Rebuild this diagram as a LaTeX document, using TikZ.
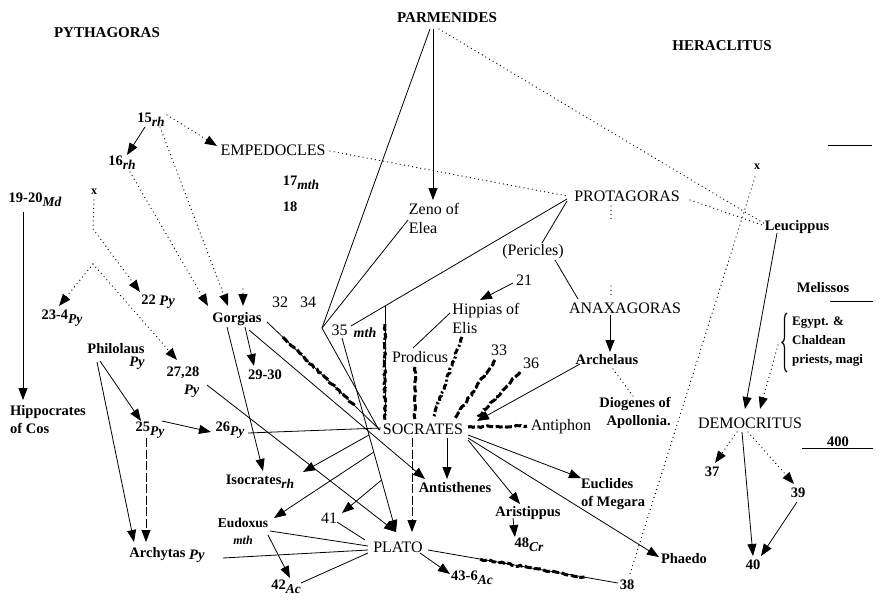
\documentclass[tikz,border=0pt]{standalone}
\usepackage{fontspec}
\setmainfont{Liberation Serif}
\usetikzlibrary{arrows.meta,calc,decorations.pathmorphing,decorations.pathreplacing}
\newcommand\subit[1]{\raisebox{-4pt}{\fontsize{13.5}{14}\selectfont\itshape #1}}
\tikzset{
  every node/.style={inner sep=0pt, font=\fontsize{16}{19}\selectfont},
  hd/.style={font=\fontsize{15}{18}\selectfont\bfseries},
  hv/.style={font=\fontsize{14.5}{18}\selectfont\bfseries},
  ln/.style={line width=0.8pt},
  tip/.style={-{Triangle[length=12pt,width=9pt]}},
  arr/.style={ln, tip},
  dot/.style={line width=1.3pt, line cap=round, dash pattern=on 0pt off 4.2pt},
  dotarr/.style={dot, tip},
  dsh/.style={ln, dash pattern=on 9pt off 2.5pt},
  hatch/.style={line width=3pt, dash pattern=on 7pt off 2.5pt, decorate,
    decoration={random steps, segment length=2.5pt, amplitude=0.9pt}},
  hatchdd/.style={line width=3pt, dash pattern=on 6pt off 2.5pt on 2pt off 2.5pt, decorate,
    decoration={random steps, segment length=2.5pt, amplitude=0.9pt}},
  hatchpart/.style 2 args={line width=3pt, dash pattern=on 7pt off 2.5pt, decorate,
    decoration={random steps, segment length=2.5pt, amplitude=0.9pt,
      pre=moveto, pre length=#1, post=moveto, post length=#2}},
}
\begin{document}
\begin{tikzpicture}[x=1pt,y=-1pt]
\pgfmathsetseed{11}
\path[fill=white] (0,0) rectangle (880,607);

% schools at the top
\node[hd] (pyth) at (107,33) {PYTHAGORAS};
\node[hd] (parm) at (447,18) {PARMENIDES};
\node[hd] (hera) at (722,46) {HERACLITUS};

% Pythagorean and rhetorical side
\node[hv] (n15) at (151,120) {15\subit{rh}};
\node[hv] (n16) at (122,163) {16\subit{rh}};
\node[hv] (n1920) at (35,200) {19-20\subit{Md}};
\node[font=\fontsize{12}{12}\selectfont\bfseries] (xl) at (94,192) {x};
\node (emp) at (273,150) {EMPEDOCLES};
\node[hv] (n17) at (301,183) {17\subit{mth}};
\node[hv] (n18) at (290,207) {18};
\node[align=left] (zeno) at (434,218) {Zeno of\\Elea};
\node[hv] (n22) at (158,302) {22 \raisebox{-1pt}{\itshape Py}};
\node[hv] (n234) at (62,318) {23-4\subit{Py}};
\node[align=right, font=\fontsize{14.5}{13}\selectfont\bfseries] (philo) at (116,357) {Philolaus\\\itshape Py};
\node[hv, align=right] (n2728) at (183,382) {27,28\\\itshape Py};
\node[hv] (gorg) at (237,319) {Gorgias};
\node (n32) at (280,302) {32};
\node (n34) at (308,302) {34};
\node[hv] (n2930) at (265,375) {29-30};
\node (n35) at (354,331) {35\hspace{6pt}\raisebox{-2pt}{\fontsize{14}{14}\selectfont\bfseries\itshape mth}};
\node[hv, align=left] (hippo) at (48,420) {Hippocrates\\of Cos};
\node[hv] (n25) at (150,430) {25\subit{Py}};
\node[hv] (n26) at (230,430) {26\subit{Py}};
\node[hv] (archy) at (167,555) {Archytas \raisebox{-2pt}{\itshape Py}};
\node[hv] (isoc) at (260,482) {Isocrates\subit{rh}};
\node[align=center, font=\fontsize{13.5}{17}\selectfont\bfseries] (eudox) at (243,531) {Eudoxus\\{\fontsize{12}{12}\selectfont\itshape mth}};
\node (n41) at (329,518) {41};
\node[hv] (n42) at (286,587) {42\subit{Ac}};
\node (plato) at (398,547) {PLATO};
\node[hv] (n436) at (472,578) {43-6\subit{Ac}};
\node[hv] (n38) at (627,585) {38};

% Socrates and his circle
\node (socr) at (423,429) {SOCRATES};
\node[hv] (antis) at (455,488) {Antisthenes};
\node[hv] (arist) at (528,513) {Aristippus};
\node[hv] (n48) at (529,545) {48\subit{Cr}};
\node[hv, align=left] (eucl) at (613,494) {Euclides\\of Megara};
\node[hv] (phaedo) at (684,559) {Phaedo};
\node (antiph) at (561,427) {Antiphon};
\node (prod) at (420,357) {Prodicus};
\node[align=left] (hipp) at (486,318) {Hippias of\\Elis};
\node (n21) at (524,280) {21};
\node (n33) at (499,350) {33};
\node (n36) at (531,363) {36};
\node (peric) at (533,252) {(Pericles)};
\node (prot) at (627,196) {PROTAGORAS};
\node (anax) at (625,308) {ANAXAGORAS};
\node[hv] (arch) at (607,360) {Archelaus};
\node[hv, align=right] (diog) at (635,413) {Diogenes of\\Apollonia.};

% Atomists
\node[hv] (leuc) at (797,227) {Leucippus};
\node[font=\fontsize{12}{12}\selectfont\bfseries] (xr) at (757,167) {x};
\node[hv] (meliss) at (823,288) {Melissos};
\node[anchor=west, align=left, font=\fontsize{13}{19}\selectfont\bfseries] (egypt) at (792,342)
  {Egypt. \&\\Chaldean\\priests, magi};
\draw[line width=1.2pt, decorate, decoration={brace, amplitude=5pt}]
  ([shift={(-5,5)}]egypt.south west) -- ([shift={(-5,-4)}]egypt.north west);
\node (democ) at (750,423) {DEMOCRITUS};
\node[hv] (n37) at (712,472) {37};
\node[hv] (n39) at (798,493) {39};
\node[hv] (n40) at (753,565) {40};
\node[hv] (n400) at (838,442) {400};

% date rules on the right margin
\draw[ln] (828,145) -- (872,145);
\draw[ln] (830,301) -- (873,301);
\draw[ln] (802,448) -- (873,448);

% junctions
\coordinate (apex) at (322,328);
\coordinate (xbend) at (93,229);
\coordinate (peak) at (93,264);
\coordinate (gstub) at (243,289);
\coordinate (pbranch) at (385,306);

% Pythagorean side
\draw[arr] ([shift={(-6,7)}]n15.center) -- ([shift={(5,-8)}]n16.center);
\draw[dotarr] ([shift={(16,-5)}]n15.center) -- ([shift={(-56,-4)}]emp.center);
\draw[dotarr] ([shift={(9,7)}]n15.center) -- ([shift={(-9,-13)}]gorg.center);
\draw[dotarr] ([shift={(8,9)}]n16.center) -- ([shift={(-29,-13)}]gorg.center);
\draw[dotarr] (gstub) -- ([shift={(6,-13)}]gorg.center);
\draw[arr] ([shift={(-12,12)}]n1920.center) -- ([shift={(-25,-20)}]hippo.center);
\draw[dotarr] ([shift={(0,8)}]xl.center) -- (xbend) -- ([shift={(-18,-10)}]n22.center);
\draw[dotarr] (peak) -- ([shift={(-3,-12)}]n234.center);
\draw[dotarr] (peak) -- ([shift={(-6,-22)}]n2728.center);
\draw[arr] ([shift={(-19,5)}]philo.center) -- ([shift={(-33,-13)}]archy.center);
\draw[arr] ([shift={(-16,4)}]philo.center) -- ([shift={(-9,-9)}]n25.center);
\draw[arr] ([shift={(12,-9)}]n25.center) -- ([shift={(-19,2)}]n26.center);
\draw[dsh, tip] ([shift={(-4,8)}]n25.center) -- ([shift={(-21,-13)}]archy.center);
\draw[ln] ([shift={(18,3)}]n26.center) -- ([shift={(-42,-1)}]socr.center);

% Gorgias
\draw[arr] ([shift={(-10,8)}]gorg.center) -- ([shift={(3,-11)}]isoc.center);
\draw[arr] ([shift={(8,8)}]gorg.center) -- ([shift={(-11,-9)}]n2930.center);
\draw[arr] ([shift={(12,11)}]gorg.center) -- ([shift={(-30,-9)}]antis.center);
\draw[ln] ([shift={(30,3)}]gorg.center) -- ([shift={(-43,1)}]socr.center);
\draw[hatchpart={22pt}{35pt}] ([shift={(30,3)}]gorg.center) -- ([shift={(-43,1)}]socr.center);
\draw[arr] ([shift={(24,3)}]n2728.center) -- ([shift={(-2,-15)}]plato.center);

% Eleatic lines
\draw[ln] ([shift={(-17,11)}]parm.center) -- (apex);
\draw[ln] ([shift={(-26,2)}]zeno.center) -- (apex);
\draw[ln] (apex) -- ([shift={(-44,1)}]socr.center);
\draw[arr] ([shift={(-14,11)}]parm.center) -- ([shift={(-1,-18)}]zeno.center);
\draw[dot] ([shift={(-8,11)}]parm.center) -- ([shift={(-32,-3)}]leuc.center);

% Protagoras
\draw[ln] ([shift={(-60,3)}]prot.center) -- ([shift={(-3,-5)}]n35.center);
\draw[ln] (pbranch) -- ([shift={(-38,-9)}]socr.center);
\draw[hatchpart={18pt}{0.5pt}] (pbranch) -- ([shift={(-38,-9)}]socr.center);
\draw[dot] ([shift={(57,1)}]emp.center) -- ([shift={(-60,0)}]prot.center);
\draw[dot] ([shift={(63,4)}]prot.center) -- ([shift={(-32,-1)}]leuc.center);
\draw[dot] ([shift={(-2,10)}]xr.center) -- ([shift={(3,-11)}]n38.center);
\draw[ln] ([shift={(-60,5)}]prot.center) -- ([shift={(9,-9)}]peric.center);
\draw[ln] ([shift={(22,8)}]peric.center) -- ([shift={(-47,-9)}]anax.center);
\draw[dot] ([shift={(-16,10)}]prot.center) -- ++(0,16)
           ([shift={(-14,-22)}]anax.center) -- ++(0,12);
\draw[arr] ([shift={(-15,7)}]anax.center) -- ([shift={(3,-8)}]arch.center);
\draw[dot] ([shift={(6,9)}]arch.center) -- ([shift={(-2,-17)}]diog.center);
\draw[arr] ([shift={(-27,4)}]arch.center) -- ([shift={(54,-8)}]socr.center);

% 35 to Plato, with its branches
\coordinate (tA) at ([shift={(-12,7)}]n35.center);
\coordinate (tB) at ([shift={(-2,-15)}]plato.center);
\coordinate (b1) at ($(tA)!0.5!(tB)$);
\coordinate (b2) at ($(tA)!0.588!(tB)$);
\coordinate (b3) at ($(tA)!0.732!(tB)$);
\draw[arr] (tA) -- (tB);
\draw[arr] (b1) -- ([shift={(43,-10)}]isoc.center);
\draw[arr] (b2) -- ([shift={(31,-13)}]eudox.center);
\draw[arr] (b3) -- ([shift={(13,-5)}]n41.center);

% into Socrates
\draw[hatch] ([shift={(-11,9)}]n36.center) -- ([shift={(55,-12)}]socr.center);
\draw[hatch] ([shift={(-4,10)}]n33.center) -- ([shift={(32,-11)}]socr.center);
\draw[hatchdd] ([shift={(-24,19)}]hipp.center) -- ([shift={(10,-11)}]socr.center);
\draw[hatch] ([shift={(-5,10)}]prod.center) -- ([shift={(-8,-10)}]socr.center);
\draw[ln] ([shift={(-36,-5)}]hipp.center) -- ([shift={(-7,-9)}]prod.center);
\draw[arr] ([shift={(-11,3)}]n21.center) -- ([shift={(-6,-18)}]hipp.center);
\draw[hatch] ([shift={(45,-2)}]socr.center) -- ([shift={(-34,-1)}]antiph.center);

% from Socrates
\draw[arr] ([shift={(24,9)}]socr.center) -- ([shift={(-8,-9)}]antis.center);
\draw[arr] ([shift={(45,11)}]socr.center) -- ([shift={(-8,-9)}]arist.center);
\draw[arr] ([shift={(45,6)}]socr.center) -- ([shift={(-32,-16)}]eucl.center);
\draw[arr] ([shift={(45,9)}]socr.center) -- ([shift={(-25,-2)}]phaedo.center);
\draw[dsh, tip] ([shift={(-11,9)}]socr.center) -- ([shift={(14,-15)}]plato.center);
\draw[arr] ([shift={(-15,5)}]arist.center) -- ([shift={(-14,-8)}]n48.center);

% around Plato
\draw[ln] ([shift={(27,0)}]eudox.center) -- ([shift={(-30,-1)}]plato.center);
\draw[ln] ([shift={(56,3)}]archy.center) -- ([shift={(-30,3)}]plato.center);
\draw[ln] ([shift={(15,-4)}]n42.center) -- ([shift={(-30,6)}]plato.center);
\draw[arr] ([shift={(25,4)}]eudox.center) -- ([shift={(4,-9)}]n42.center);
\draw[ln] ([shift={(8,4)}]n41.center) -- ([shift={(-33,-7)}]plato.center);
\draw[arr] ([shift={(22,6)}]plato.center) -- ([shift={(-22,-4)}]n436.center);
\draw[ln] ([shift={(30,3)}]plato.center) -- ([shift={(-9,-2)}]n38.center);
\draw[hatchpart={53pt}{34pt}] ([shift={(30,3)}]plato.center) -- ([shift={(-9,-2)}]n38.center);

% Democritus
\draw[arr] ([shift={(-20,6)}]leuc.center) -- ([shift={(-5,-14)}]democ.center);
\draw[dotarr] ([shift={(-14,3)}]egypt.west) -- ([shift={(10,-14)}]democ.center);
\draw[dotarr] ([shift={(-13,9)}]democ.center) -- ([shift={(3,-9)}]n37.center);
\draw[dotarr] ([shift={(-2,9)}]democ.center) -- ([shift={(-4,-9)}]n39.center);
\draw[arr] ([shift={(-8,9)}]democ.center) -- ([shift={(0,-9)}]n40.center);
\draw[arr] ([shift={(-1,9)}]n39.center) -- ([shift={(8,-9)}]n40.center);
\end{tikzpicture}
\end{document}
